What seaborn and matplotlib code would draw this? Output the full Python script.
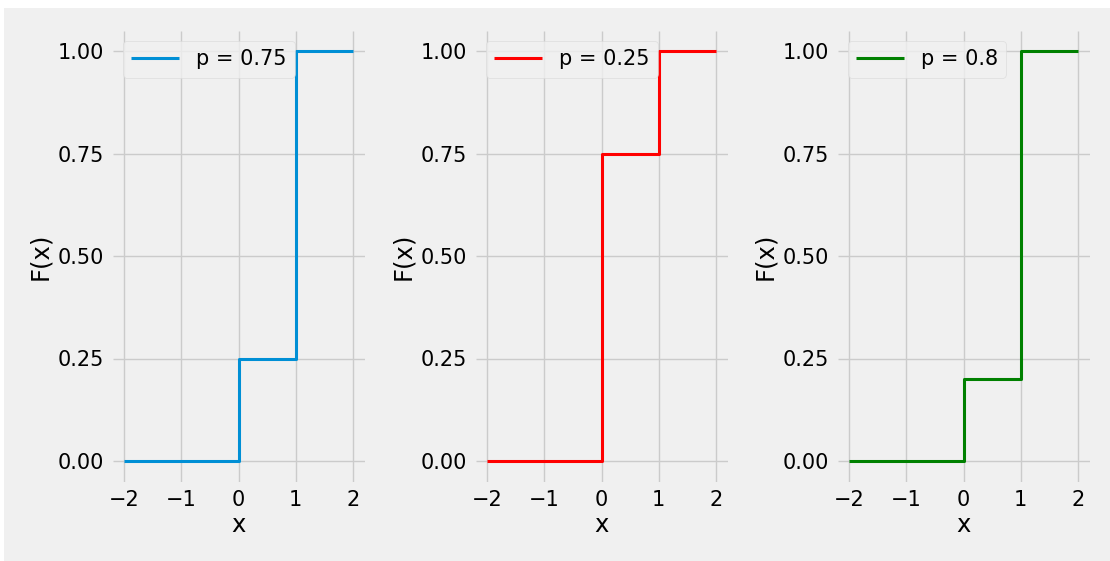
import matplotlib
matplotlib.use("Agg")
import matplotlib.pyplot as plt
import seaborn as sns
import pandas as pd
from matplotlib.patches import Rectangle

plt.style.use("fivethirtyeight")

# Bernoulli CDF step points
x_points = [-2, 0, 1, 2]
p_values = [0.75, 0.25, 0.8]
colors = ["#008fd5", "red", "green"]
labels = ["p = 0.75", "p = 0.25", "p = 0.8"]
x_ticks = [-2, -1, 0, 1, 2]
y_ticks = [0.00, 0.25, 0.50, 0.75, 1.00]

fig = plt.figure(figsize=(11.1, 5.61), dpi=100, facecolor="white")
fig.patches.append(Rectangle((4 / 1110, 0), 1, 553 / 561, transform=fig.transFigure,
                             facecolor="#f0f0f0", edgecolor="none", zorder=-10))

W, H = 1110, 561
lefts = [112.5, 475.5, 837.5]
width = 252
top, bottom = 30.5, 481.5

for i, (p, c, lab) in enumerate(zip(p_values, colors, labels)):
    ax = fig.add_axes([lefts[i] / W, 1 - bottom / H, width / W, (bottom - top) / H])
    ax.set_facecolor("#f0f0f0")
    cdf = [0, 1 - p, 1, 1]
    df = pd.DataFrame({"x": x_points, "F": cdf})
    sns.lineplot(data=df, x="x", y="F", ax=ax, color=c, linewidth=2.2,
                 drawstyle="steps-post", estimator=None, label=lab)
    ax.set_xticks(x_ticks)
    ax.set_yticks(y_ticks)
    ax.set_yticklabels([f"{v:.2f}" for v in y_ticks])
    ax.tick_params(labelsize=15, length=0, pad=6)
    ax.set_xlabel("x", fontsize=17.5, labelpad=2)
    ax.set_ylabel("F(x)", fontsize=17.5, labelpad=4)
    ax.grid(True, color="#cbcbcb", linewidth=1)
    for s in ax.spines.values():
        s.set_visible(False)
    leg = ax.legend(loc="upper left", fontsize=15, frameon=True, handlelength=2.3)
    leg.get_frame().set_facecolor("#f0f0f0")
    leg.get_frame().set_edgecolor("#d8d8d8")

fig.savefig("out.png", dpi=100, facecolor="white")
